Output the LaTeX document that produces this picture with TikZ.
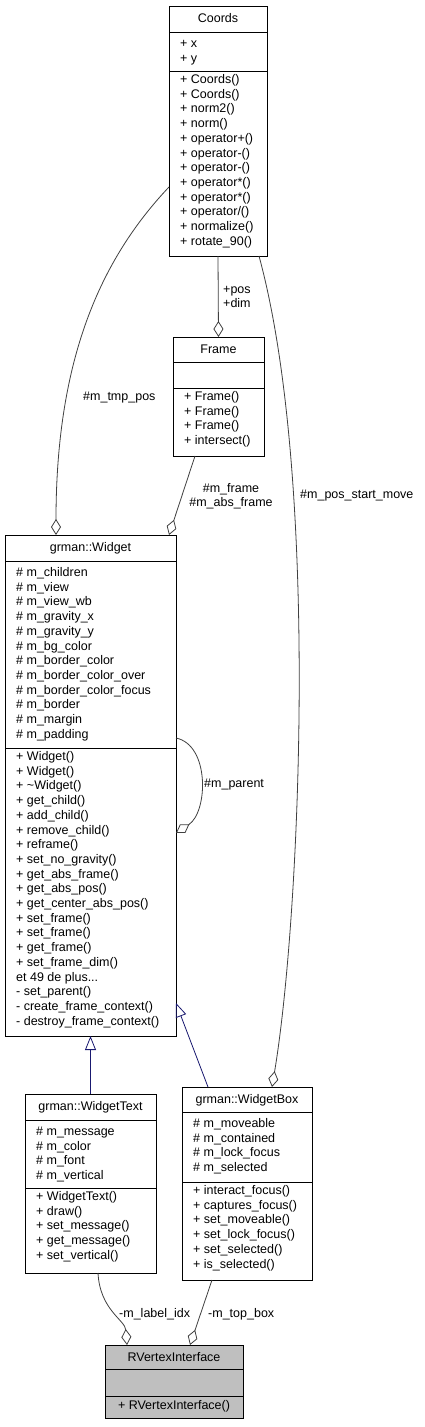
\documentclass[tikz,border=0pt]{standalone}
\usepackage{fontspec}
\setmainfont{Liberation Sans}
\usetikzlibrary{arrows.meta}
\definecolor{edgegray}{HTML}{404040}
\definecolor{inhblue}{HTML}{191970}
\definecolor{rvfill}{HTML}{BFBFBF}
\newcommand\dgfont{\fontsize{12.5}{14.7}\selectfont}
\begin{document}
\begin{tikzpicture}[x=1pt,y=-1pt,
  umlbox/.style={draw=black, line width=1pt, fill=white, inner sep=0pt, outer sep=0pt, anchor=north west, rectangle},
  txt/.style={inner sep=0pt, anchor=base west, font=\dgfont},
  hdr/.style={inner sep=0pt, anchor=base, font=\dgfont},
  lbl/.style={inner sep=0pt, anchor=base west, font=\dgfont},
  clbl/.style={inner sep=0pt, anchor=base, font=\dgfont},
  agg/.style={draw=edgegray, line width=0.8pt, -{Diamond[open, length=16pt, width=10pt]}},
  inh/.style={draw=inhblue, line width=0.8pt, -{Triangle[open, length=14pt, width=11pt]}},
  sep/.style={draw=black, line width=1pt}]

\useasboundingbox[fill=white] (0,0) rectangle (424,1427);

% ---------- Coords ----------
\node[umlbox, minimum width=98pt, minimum height=250pt] (coords) at (169,6) {};
\draw[sep] ([yshift=-26pt]coords.north west) -- ([yshift=-26pt]coords.north east);
\draw[sep] ([yshift=-65pt]coords.north west) -- ([yshift=-65pt]coords.north east);
\node[hdr] (coordsname) at (218,22) {Coords};
\node[txt] (coordsattr) at (180,47.5) {\begin{tabular}[t]{@{}l@{}}+ x\\+ y\end{tabular}};
\node[txt] (coordsops) at (180,83.5) {\begin{tabular}[t]{@{}l@{}}+ Coords()\\+ Coords()\\+ norm2()\\+ norm()\\+ operator+()\\+ operator-()\\+ operator-()\\+ operator*()\\+ operator*()\\+ operator/()\\+ normalize()\\+ rotate\_90()\end{tabular}};

% ---------- Frame ----------
\node[umlbox, minimum width=91pt, minimum height=119pt] (frame) at (173,337) {};
\draw[sep] ([yshift=-25pt]frame.north west) -- ([yshift=-25pt]frame.north east);
\draw[sep] ([yshift=-51pt]frame.north west) -- ([yshift=-51pt]frame.north east);
\node[hdr] (framename) at (218.5,353) {Frame};
\node[txt] (frameops) at (184,400.5) {\begin{tabular}[t]{@{}l@{}}+ Frame()\\+ Frame()\\+ Frame()\\+ intersect()\end{tabular}};

% ---------- grman::Widget ----------
\node[umlbox, minimum width=171pt, minimum height=501pt] (widget) at (5,535) {};
\draw[sep] ([yshift=-26pt]widget.north west) -- ([yshift=-26pt]widget.north east);
\draw[sep] ([yshift=-213pt]widget.north west) -- ([yshift=-213pt]widget.north east);
\node[hdr] (widgetname) at (90.5,551) {grman::Widget};
\node[txt] (widgetattr) at (16,576.5) {\begin{tabular}[t]{@{}l@{}}\# m\_children\\\# m\_view\\\# m\_view\_wb\\\# m\_gravity\_x\\\# m\_gravity\_y\\\# m\_bg\_color\\\# m\_border\_color\\\# m\_border\_color\_over\\\# m\_border\_color\_focus\\\# m\_border\\\# m\_margin\\\# m\_padding\end{tabular}};
\node[txt] (widgetops) at (16,760.5) {\begin{tabular}[t]{@{}l@{}}+ Widget()\\+ Widget()\\+ \textasciitilde Widget()\\+ get\_child()\\+ add\_child()\\+ remove\_child()\\+ reframe()\\+ set\_no\_gravity()\\+ get\_abs\_frame()\\+ get\_abs\_pos()\\+ get\_center\_abs\_pos()\\+ set\_frame()\\+ set\_frame()\\+ get\_frame()\\+ set\_frame\_dim()\\et 49 de plus...\\- set\_parent()\\- create\_frame\_context()\\- destroy\_frame\_context()\end{tabular}};

% ---------- grman::WidgetText ----------
\node[umlbox, minimum width=131pt, minimum height=179pt] (wtext) at (25,1094) {};
\draw[sep] ([yshift=-26pt]wtext.north west) -- ([yshift=-26pt]wtext.north east);
\draw[sep] ([yshift=-94pt]wtext.north west) -- ([yshift=-94pt]wtext.north east);
\node[hdr] (wtextname) at (90.5,1110) {grman::WidgetText};
\node[txt] (wtextattr) at (36,1135.5) {\begin{tabular}[t]{@{}l@{}}\# m\_message\\\# m\_color\\\# m\_font\\\# m\_vertical\end{tabular}};
\node[txt] (wtextops) at (36,1200.5) {\begin{tabular}[t]{@{}l@{}}+ WidgetText()\\+ draw()\\+ set\_message()\\+ get\_message()\\+ set\_vertical()\end{tabular}};

% ---------- grman::WidgetBox ----------
\node[umlbox, minimum width=130pt, minimum height=193pt] (wbox) at (182,1087) {};
\draw[sep] ([yshift=-25pt]wbox.north west) -- ([yshift=-25pt]wbox.north east);
\draw[sep] ([yshift=-95pt]wbox.north west) -- ([yshift=-95pt]wbox.north east);
\node[hdr] (wboxname) at (247,1103) {grman::WidgetBox};
\node[txt] (wboxattr) at (193,1127.5) {\begin{tabular}[t]{@{}l@{}}\# m\_moveable\\\# m\_contained\\\# m\_lock\_focus\\\# m\_selected\end{tabular}};
\node[txt] (wboxops) at (193,1194.5) {\begin{tabular}[t]{@{}l@{}}+ interact\_focus()\\+ captures\_focus()\\+ set\_moveable()\\+ set\_lock\_focus()\\+ set\_selected()\\+ is\_selected()\end{tabular}};

% ---------- RVertexInterface ----------
\node[umlbox, fill=rvfill, minimum width=138pt, minimum height=73pt] (rv) at (105,1345) {};
\draw[sep] ([yshift=-24pt]rv.north west) -- ([yshift=-24pt]rv.north east);
\draw[sep] ([yshift=-51pt]rv.north west) -- ([yshift=-51pt]rv.north east);
\node[hdr] (rvname) at (174,1361) {RVertexInterface};
\node[hdr] (rvops) at (174,1409) {+ RVertexInterface()};

% ---------- connectors ----------
\draw[agg] (coords.south) -- (frame.north);
\draw[agg] ([yshift=-56pt]coords.west) .. controls (100,260) and (56,360) .. ([xshift=51pt]widget.north west);
\draw[agg] ([xshift=-23.5pt]frame.south) -- ([xshift=-7pt]widget.north east);
\draw[agg] ([xshift=41pt]coords.south) .. controls (320,480) and (300,920) .. ([xshift=25pt]wbox.north);
\draw[agg] ([yshift=47.5pt]widget.east) .. controls (210,745) and (208,812) .. ([yshift=-47.5pt]widget.east);
\draw[inh] (wtext.north) -- (widget.south);
\draw[inh] ([xshift=-39pt]wbox.north) -- ([yshift=33pt]widget.south east);
\draw[agg] ([xshift=7.5pt]wtext.south) .. controls (100,1310) and (125,1320) .. ([xshift=-47pt]rv.north);
\draw[agg] ([xshift=-35pt]wbox.south) -- ([xshift=16pt]rv.north);

% ---------- labels ----------
\node[lbl] (lposdim) at (223,293) {\begin{tabular}[t]{@{}l@{}}+pos\\+dim\end{tabular}};
\node[lbl] (ltmppos) at (83,400) {\#m\_tmp\_pos};
\node[clbl] (lframe) at (231,492) {\begin{tabular}[t]{@{}c@{}}\#m\_frame\\\#m\_abs\_frame\end{tabular}};
\node[lbl] (lposstart) at (300,498) {\#m\_pos\_start\_move};
\node[lbl] (lparent) at (204,787) {\#m\_parent};
\node[lbl] (llabel) at (119,1317) {-m\_label\_idx};
\node[lbl] (ltopbox) at (208,1317) {-m\_top\_box};
\end{tikzpicture}
\end{document}
